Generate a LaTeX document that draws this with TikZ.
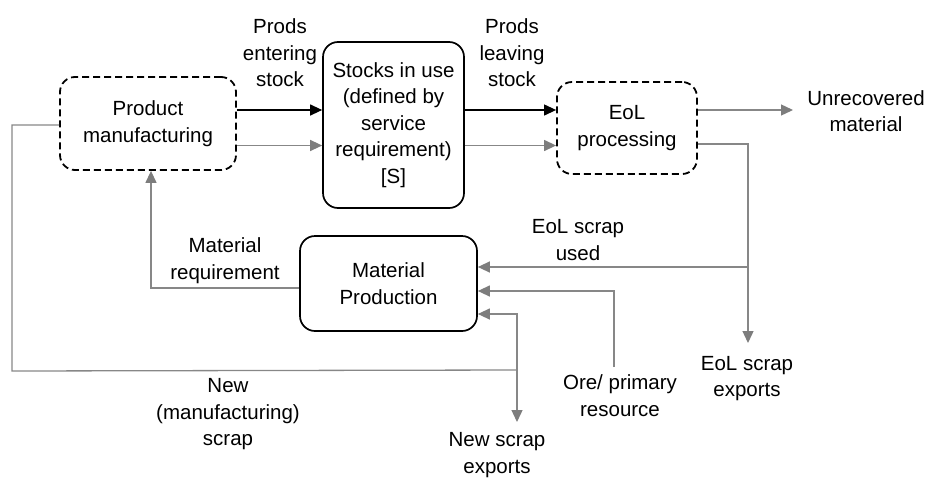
\documentclass[tikz,border=0pt]{standalone}
\usepackage{fontspec}
\setmainfont{Liberation Sans}
\usetikzlibrary{arrows.meta}
\definecolor{lg}{RGB}{135,135,135}
\definecolor{ag}{RGB}{125,125,125}
\begin{document}
\begin{tikzpicture}[x=1pt,y=-1pt,
  every node/.style={font=\fontsize{20.5}{26.5}\selectfont, align=center, inner sep=0pt},
  sbox/.style={draw=black, line width=1.7pt, rounded corners=15pt},
  dbox/.style={draw=black, line width=1.8pt, rounded corners=15pt, dash pattern=on 7pt off 4pt},
  blk/.style={draw=black, line width=1.2pt, -{Triangle[length=12pt,width=11pt]}},
  garr/.style={draw=lg, line width=1.3pt, -{Triangle[length=12pt,width=11pt,color=ag]}},
  gline/.style={draw=lg, line width=1.3pt},
  gboth/.style={draw=lg, line width=1.3pt, {Triangle[length=12pt,width=11pt,color=ag]}-{Triangle[length=12pt,width=11pt,color=ag]}}
]
\useasboundingbox (0,0) rectangle (931,477);
% boxes
\node[dbox, minimum width=176pt, minimum height=93pt] (pm) at (148,123.5) {Product\\manufacturing};
\node[sbox, minimum width=141pt, minimum height=166pt] (st) at (393.5,125) {Stocks in use\\(defined by\\service\\requirement)\\{}[S]};
\node[dbox, minimum width=140pt, minimum height=92pt] (eol) at (627,128) {EoL\\processing};
\node[sbox, minimum width=177pt, minimum height=95pt] (mp) at (388.5,283.5) {Material\\Production};
% reference coordinates
\coordinate (y110) at (0,110);
\coordinate (y145) at (0,145.5);
\coordinate (y144) at (0,144);
\coordinate (y125) at (0,125);
\coordinate (y267) at (0,267);
\coordinate (y291) at (0,291);
\coordinate (y314) at (0,314);
\coordinate (y288) at (0,288);
\coordinate (x151) at (151,0);
\coordinate (unrecTip) at (793,110);
\coordinate (eolA) at (748,144);
\coordinate (eolB) at (748,267);
\coordinate (eolTip) at (748,343);
\coordinate (oreA) at (614,367);
\coordinate (oreB) at (614,291);
\coordinate (nsA) at (517,314);
\coordinate (nsB) at (517,370);
\coordinate (nsTip) at (517,422);
\coordinate (lpA) at (12,125);
\coordinate (lpB) at (12,371);
\coordinate (mrA) at (151,288);
% labels
\node (l1) at (280,53) {Prods\\entering\\stock};
\node (l2) at (512,53) {Prods\\leaving\\stock};
\node (unrec) at (866,111) {Unrecovered\\material};
\node (l3) at (578,240) {EoL scrap\\used};
\node (l4) at (225,260.5) {Material\\requirement};
\node (l5) at (747,378.5) {EoL scrap\\exports};
\node (l6) at (620,395.5) {Ore/ primary\\resource};
\node (l7) at (228,414.5) {New\\(manufacturing)\\scrap};
\node (l8) at (497,455) {New scrap\\exports};
% connectors
\draw[blk] (pm.east |- y110) -- (st.west |- y110);
\draw[garr] (pm.east |- y145) -- (st.west |- y145);
\draw[blk] (st.east |- y110) -- (eol.west |- y110);
\draw[garr] (st.east |- y145) -- (eol.west |- y145);
\draw[garr] (eol.east |- y110) -- (unrecTip);
\draw[garr] (eol.east |- y144) -- (eolA) -- (eolTip);
\draw[garr] (eolB) -- (mp.east |- y267);
\draw[garr] (oreA) -- (oreB) -- (mp.east |- y291);
\draw[gboth] (mp.east |- y314) -- (nsA) -- (nsTip);
\draw[gline] (pm.west |- y125) -- (lpA) -- (lpB) -- (nsB);
\draw[garr] (mp.west |- y288) -- (mrA) -- (pm.south -| x151);
\end{tikzpicture}
\end{document}
